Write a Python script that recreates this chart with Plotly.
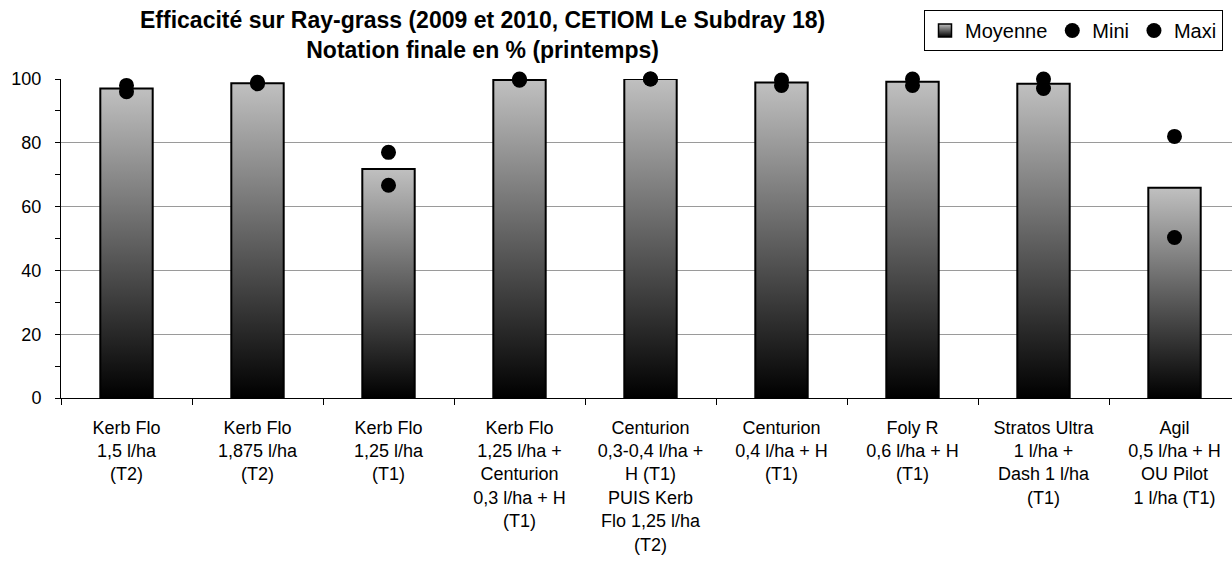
import plotly.graph_objects as go

# ---------------- data ----------------
CATEGORIES = [
    "Kerb Flo<br>1,5 l/ha<br>(T2)",
    "Kerb Flo<br>1,875 l/ha<br>(T2)",
    "Kerb Flo<br>1,25 l/ha<br>(T1)",
    "Kerb Flo<br>1,25 l/ha +<br>Centurion<br>0,3 l/ha + H<br>(T1)",
    "Centurion<br>0,3-0,4 l/ha +<br>H (T1)<br>PUIS Kerb<br>Flo 1,25 l/ha<br>(T2)",
    "Centurion<br>0,4 l/ha + H<br>(T1)",
    "Foly R<br>0,6 l/ha + H<br>(T1)",
    "Stratos Ultra<br>1 l/ha +<br>Dash 1 l/ha<br>(T1)",
    "Agil<br>0,5 l/ha + H<br>OU Pilot<br>1 l/ha (T1)",
]
MOYENNE = [97.0, 98.7, 71.8, 99.7, 100.0, 98.9, 99.1, 98.5, 65.9]
MINI = [96.0, 98.5, 66.7, 99.6, 100.0, 98.0, 98.0, 97.0, 50.3]
MAXI = [98.0, 99.0, 77.0, 100.0, 100.0, 99.7, 100.0, 100.0, 82.0]
SERIES_NAMES = ["Moyenne", "Mini", "Maxi"]
Y_TICKS = [0, 20, 40, 60, 80, 100]

TITLE = ("Efficacité sur Ray-grass (2009 et 2010, CETIOM Le Subdray 18)<br>"
         "Notation finale en % (printemps)")

# ---------------- figure ----------------
W, H = 1232, 573
L, R, T, B = 61, 0, 79, 175
PLOT_W, PLOT_H = W - L - R, H - T - B
CAT_PX = 131.0
BAR_W = 0.40
FONT = "Liberation Sans, Arial, sans-serif"

x_idx = list(range(len(CATEGORIES)))
fig = go.Figure()

# Bars (Moyenne) drawn as filled polygons with a vertical gradient
for i, v in enumerate(MOYENNE):
    x0, x1 = x_idx[i] - BAR_W / 2, x_idx[i] + BAR_W / 2
    fig.add_trace(go.Scatter(
        x=[x0, x1, x1, x0, x0], y=[0, 0, v, v, 0],
        mode="lines", fill="toself",
        fillgradient=dict(type="vertical", colorscale=[[0, "#000000"], [1, "#c0c0c0"]],
                          start=0, stop=v),
        line=dict(color="black", width=2),
        showlegend=False, legendgroup="moy", hoverinfo="skip",
    ))

# legend entry for Moyenne
fig.add_trace(go.Scatter(
    x=[None], y=[None], mode="markers", name=SERIES_NAMES[0], legendgroup="moy",
    marker=dict(symbol="square", size=13, color="#c0c0c0",
                gradient=dict(type="vertical", color="#000000"),
                line=dict(color="black", width=1.5)),
))

fig.add_trace(go.Scatter(
    x=x_idx, y=MINI, mode="markers", name=SERIES_NAMES[1],
    marker=dict(color="black", size=15), cliponaxis=False,
))
fig.add_trace(go.Scatter(
    x=x_idx, y=MAXI, mode="markers", name=SERIES_NAMES[2],
    marker=dict(color="black", size=15), cliponaxis=False,
))

# two-line title as one annotation (paper coords computed from pixel positions)
fig.add_annotation(
    text=TITLE, xref="paper", yref="paper",
    x=(482 - L) / PLOT_W, y=(H - B - 34.5) / PLOT_H,
    xanchor="center", yanchor="middle", showarrow=False, align="center",
    font=dict(family=FONT, size=23, color="black", weight="bold"),
)

fig.update_layout(
    width=W, height=H,
    margin=dict(l=L, r=R, t=T, b=B, pad=0),
    paper_bgcolor="white", plot_bgcolor="white",
    font=dict(family=FONT, size=18, color="black"),
    showlegend=True,
    legend=dict(orientation="h", x=1223 / W, xanchor="right", xref="container",
                y=1 - 10 / H, yanchor="top", yref="container",
                bordercolor="black", borderwidth=1, bgcolor="white",
                font=dict(family=FONT, size=20, color="black"),
                itemwidth=30, traceorder="normal", tracegroupgap=0),
    xaxis=dict(
        range=[-0.5, -0.5 + PLOT_W / CAT_PX],
        tickmode="array", tickvals=x_idx, ticktext=CATEGORIES,
        ticks="", showgrid=False, zeroline=False,
        showline=True, linecolor="black", linewidth=1,
        tickfont=dict(family=FONT, size=18, color="black"),
        ticklabelstandoff=13,
        minor=dict(tickmode="array", tickvals=[i - 0.5 for i in range(len(CATEGORIES) + 1)],
                   ticks="outside", ticklen=6, tickcolor="black", tickwidth=1, showgrid=False),
        fixedrange=True,
    ),
    yaxis=dict(
        range=[0, 100], tickmode="array", tickvals=Y_TICKS,
        ticks="outside", ticklen=5, tickcolor="black", tickwidth=1,
        showgrid=True, gridcolor="#9a9a9a", gridwidth=1,
        showline=True, linecolor="black", linewidth=1, zeroline=False,
        tickfont=dict(family=FONT, size=18, color="black"),
        ticklabelstandoff=10,
        minor=dict(dtick=10, tick0=0, ticks="outside", ticklen=5, tickcolor="black",
                   tickwidth=1, showgrid=False),
        fixedrange=True,
    ),
)

fig.write_html("out.html", config={"displayModeBar": False},
               post_script="document.body.style.margin='0';")
